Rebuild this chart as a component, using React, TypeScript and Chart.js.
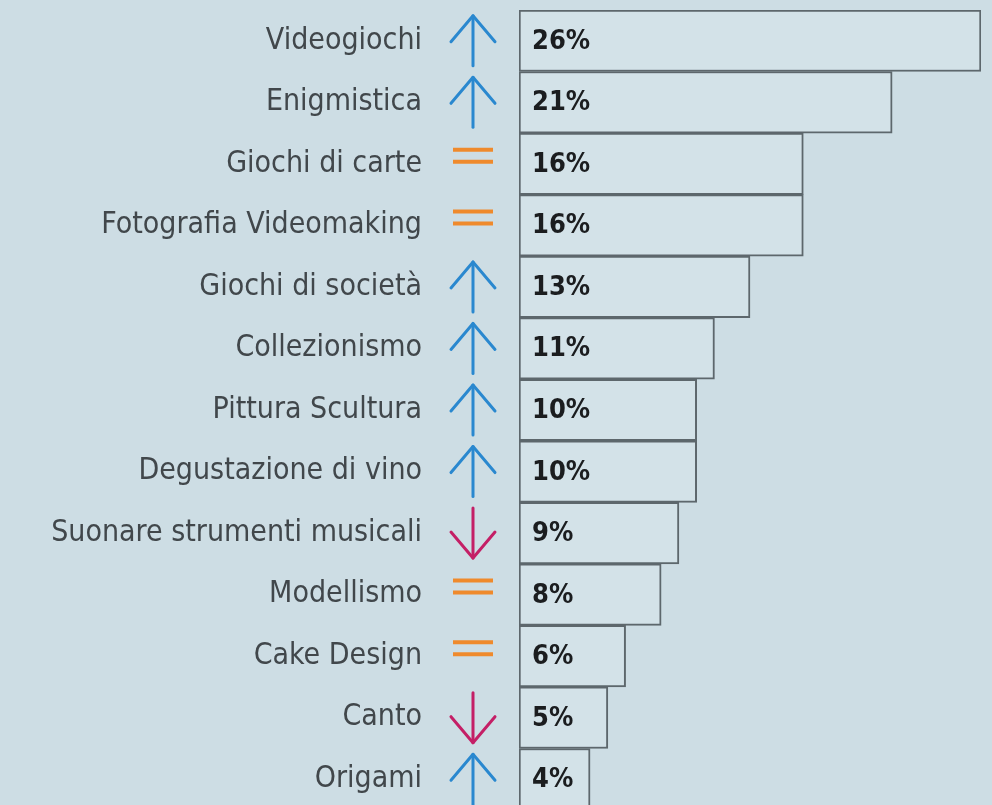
import React, { useEffect, useRef } from "react";
import { Chart, registerables } from "chart.js";

Chart.register(...registerables);

const categories = [
  "Videogiochi",
  "Enigmistica",
  "Giochi di carte",
  "Fotografia Videomaking",
  "Giochi di società",
  "Collezionismo",
  "Pittura Scultura",
  "Degustazione di vino",
  "Suonare strumenti musicali",
  "Modellismo",
  "Cake Design",
  "Canto",
  "Origami",
];
const values = [26, 21, 16, 16, 13, 11, 10, 10, 9, 8, 6, 5, 4];
const trends = ["up", "up", "eq", "eq", "up", "up", "up", "up", "down", "eq", "eq", "down", "up"];

const FONT = '"DejaVu Sans Condensed", "Liberation Sans Narrow", sans-serif';

const decorPlugin = {
  id: "decor",
  afterDatasetsDraw(chart: any) {
    const ctx = chart.ctx;
    const meta = chart.getDatasetMeta(0);
    const yScale = chart.scales.y;
    const left = chart.chartArea.left;
    ctx.save();
    // category labels
    ctx.font = `30px ${FONT}`;
    ctx.fillStyle = "#41474b";
    ctx.textAlign = "right";
    ctx.textBaseline = "middle";
    categories.forEach((c, i) => {
      ctx.fillText(c, left - 97, yScale.getPixelForValue(i));
    });
    // percentages
    ctx.font = `bold 27px ${FONT}`;
    ctx.fillStyle = "#1b1d1f";
    ctx.textAlign = "left";
    meta.data.forEach((el: any, i: number) => {
      ctx.fillText(values[i] + "%", el.base + 13, el.y + 1);
    });
    // trend markers
    const cx = left - 46;
    trends.forEach((t, i) => {
      const cy = yScale.getPixelForValue(i);
      ctx.lineCap = "round";
      ctx.lineJoin = "round";
      if (t === "up" || t === "down") {
        const dir = t === "up" ? -1 : 1;
        ctx.strokeStyle = t === "up" ? "#2a88cf" : "#c41f66";
        ctx.lineWidth = 3;
        const tipY = cy + dir * 25;
        ctx.beginPath();
        ctx.moveTo(cx, cy - dir * 25);
        ctx.lineTo(cx, tipY);
        ctx.stroke();
        ctx.beginPath();
        ctx.moveTo(cx - 22, tipY - dir * 26);
        ctx.lineTo(cx, tipY);
        ctx.lineTo(cx + 22, tipY - dir * 26);
        ctx.stroke();
      } else {
        ctx.strokeStyle = "#ef8a2c";
        ctx.lineWidth = 4;
        ctx.lineCap = "butt";
        ctx.beginPath();
        ctx.moveTo(cx - 20, cy - 14);
        ctx.lineTo(cx + 20, cy - 14);
        ctx.moveTo(cx - 20, cy - 2);
        ctx.lineTo(cx + 20, cy - 2);
        ctx.stroke();
      }
    });
    ctx.restore();
  },
};

export default function App() {
  const ref = useRef<HTMLCanvasElement | null>(null);
  useEffect(() => {
    if (!ref.current) return;
    const chart = new Chart(ref.current, {
      type: "bar",
      data: {
        labels: categories,
        datasets: [
          {
            data: values,
            backgroundColor: "#d3e2e8",
            borderColor: "#5d676c",
            borderWidth: 2,
            borderSkipped: false,
            barPercentage: 1,
            categoryPercentage: 1,
          },
        ],
      },
      options: {
        indexAxis: "y",
        animation: false,
        responsive: true,
        maintainAspectRatio: false,
        layout: { padding: { top: 10, bottom: 12, right: 11, left: 519 } },
        plugins: { legend: { display: false }, tooltip: { enabled: false } },
        scales: {
          x: { display: false, min: 0, max: 26 },
          y: { display: false },
        },
      },
      plugins: [decorPlugin],
    });
    return () => chart.destroy();
  }, []);
  return (
    <div
      style={{
        position: "fixed",
        left: 0,
        top: 0,
        width: 992,
        height: 805,
        overflow: "hidden",
        background: "#cddde4",
      }}
    >
      <div style={{ position: "relative", width: 992, height: 822 }}>
        <canvas ref={ref} />
      </div>
    </div>
  );
}
